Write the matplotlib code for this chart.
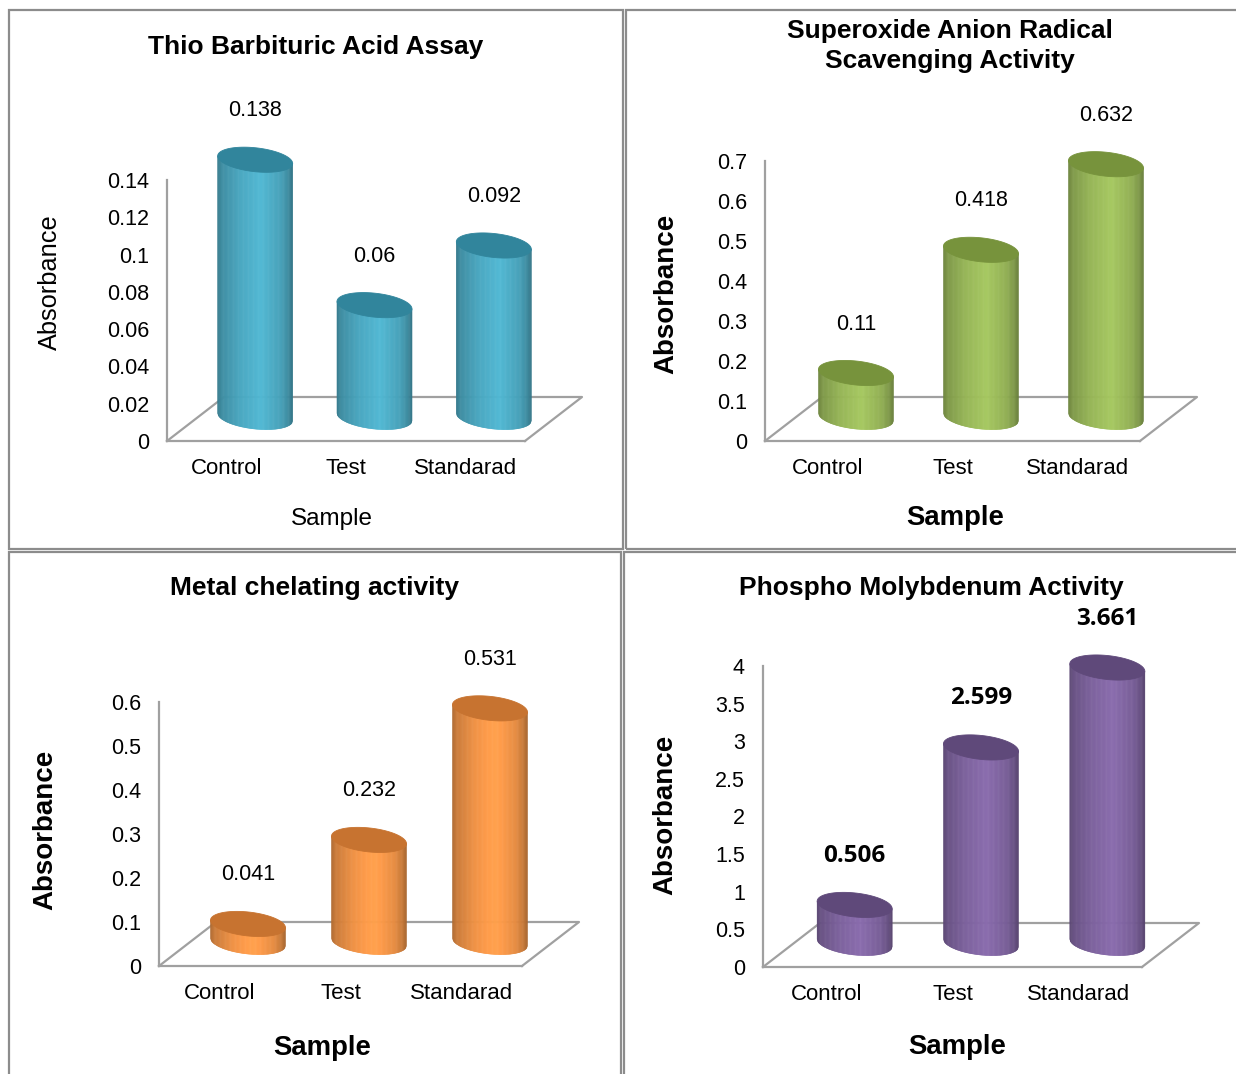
import numpy as np
import matplotlib
matplotlib.use("Agg")
import matplotlib.pyplot as plt
from matplotlib.collections import PolyCollection
from matplotlib.patches import Polygon, Rectangle
from matplotlib.colors import to_rgb

W, H, DPI = 1236, 1074, 100

# ---- data -------------------------------------------------------------
categories = ["Control", "Test", "Standarad"]

tba_values = [0.138, 0.06, 0.092]
superoxide_values = [0.11, 0.418, 0.632]
metal_values = [0.041, 0.232, 0.531]
phospho_values = [0.506, 2.599, 3.661]

tba_ticks = [0, 0.02, 0.04, 0.06, 0.08, 0.1, 0.12, 0.14]
tba_ticklabels = ["0", "0.02", "0.04", "0.06", "0.08", "0.1", "0.12", "0.14"]
superoxide_ticks = [0, 0.1, 0.2, 0.3, 0.4, 0.5, 0.6, 0.7]
superoxide_ticklabels = ["0", "0.1", "0.2", "0.3", "0.4", "0.5", "0.6", "0.7"]
metal_ticks = [0, 0.1, 0.2, 0.3, 0.4, 0.5, 0.6]
metal_ticklabels = ["0", "0.1", "0.2", "0.3", "0.4", "0.5", "0.6"]
phospho_ticks = [0, 0.5, 1, 1.5, 2, 2.5, 3, 3.5, 4]
phospho_ticklabels = ["0", "0.5", "1", "1.5", "2", "2.5", "3", "3.5", "4"]

titles = ["Thio Barbituric Acid Assay",
          "Superoxide Anion Radical\nScavenging Activity",
          "Metal chelating activity",
          "Phospho Molybdenum Activity"]

# ---- styling ----------------------------------------------------------
plt.rcParams["font.family"] = ["Liberation Sans", "DejaVu Sans"]
GRID = "#a0a0a0"
FRAME = "#8c8c8c"

panels = [
    dict(values=tba_values, ticks=tba_ticks, ticklabels=tba_ticklabels,
         title=titles[0], title_xy=(316, 47), frame=(9, 10, 623, 549),
         xL=167, xR=525, y0=441, ytop=180,
         ylabel_xy=(50, 282), xlabel_xy=(332, 519), label_weight="normal",
         body="#4bacc6", cap="#31859c", value_font=("Liberation Sans", "normal", 15.5)),
    dict(values=superoxide_values, ticks=superoxide_ticks, ticklabels=superoxide_ticklabels,
         title=titles[1], title_xy=(950, 46), frame=(626, 10, 1240, 549),
         xL=765, xR=1140, y0=441, ytop=161,
         ylabel_xy=(666, 294), xlabel_xy=(955, 518), label_weight="bold",
         body="#9bbb59", cap="#77933c", value_font=("Liberation Sans", "normal", 15.5)),
    dict(values=metal_values, ticks=metal_ticks, ticklabels=metal_ticklabels,
         title=titles[2], title_xy=(314, 588), frame=(9, 552, 621, 1080),
         xL=159, xR=522, y0=966, ytop=702,
         ylabel_xy=(45, 830), xlabel_xy=(322, 1048), label_weight="bold",
         body="#f79646", cap="#c77330", value_font=("Liberation Sans", "normal", 15.5)),
    dict(values=phospho_values, ticks=phospho_ticks, ticklabels=phospho_ticklabels,
         title=titles[3], title_xy=(931, 588), frame=(624, 552, 1240, 1080),
         xL=763, xR=1142, y0=967, ytop=666,
         ylabel_xy=(665, 815), xlabel_xy=(957, 1047), label_weight="bold",
         body="#8064a2", cap="#5f497a", value_font=("Open Sans", "bold", 17.5)),
]

DEPTH_X, DEPTH_Y = 57, 44      # floor depth, pixels
CYL_W, CYL_EH = 75, 24         # cylinder width / ellipse height, pixels
BASE_UP = 24                   # cylinder base centre above front edge, pixels
SHEAR = 0.1                    # cap tilt, px rise per px
LABEL_OFF = 49                 # value label above cap centre, pixels

knots_t = [0.0, 0.06, 0.3, 0.58, 0.85, 0.95, 1.0]
knots_k = [0.70, 0.82, 0.97, 1.07, 0.93, 0.80, 0.68]


def shade(color, t):
    k = np.interp(t, knots_t, knots_k)
    r, g, b = to_rgb(color)
    return tuple(np.clip([r * k, g * k, b * k], 0, 1))


def px2fig(x, y):
    return x / W, 1 - y / H


def cylinder(ax, cx, base, top, w, eh, shear, body, cap):
    n = 90
    xs = np.linspace(cx - w / 2, cx + w / 2, n + 1)
    u = (xs - cx) / (w / 2)
    lower = base - eh / 2 * np.sqrt(np.clip(1 - u ** 2, 0, None)) + shear * (xs - cx)
    upper = top + shear * (xs - cx)
    polys, cols = [], []
    for i in range(n):
        polys.append([(xs[i], lower[i]), (xs[i + 1], lower[i + 1]),
                      (xs[i + 1], upper[i + 1]), (xs[i], upper[i])])
        cols.append(shade(body, (i + 0.5) / n))
    pc = PolyCollection(polys, facecolors=cols, edgecolors=cols, linewidths=0.4,
                        clip_on=False, zorder=3)
    ax.add_collection(pc)
    th = np.linspace(0, 2 * np.pi, 120)
    ex = cx + w / 2 * np.cos(th)
    ey = top + eh / 2 * np.sin(th) + shear * (ex - cx)
    ax.add_patch(Polygon(np.column_stack([ex, ey]), closed=True, facecolor=cap,
                         edgecolor=cap, lw=0.6, clip_on=False, zorder=4))


fig = plt.figure(figsize=(W / DPI, H / DPI), dpi=DPI)
fig.patch.set_facecolor("white")

for p in panels:
    # panel frame
    x0, y0f, x1, y1f = p["frame"]
    fx, fy = px2fig(x0, y1f)
    fig.add_artist(Rectangle((fx, fy), (x1 - x0) / W, (y1f - y0f) / H,
                             transform=fig.transFigure, fill=False,
                             edgecolor=FRAME, lw=1.6, zorder=0))

    xL, xR, yb, yt = p["xL"], p["xR"], p["y0"], p["ytop"]
    ymax = p["ticks"][-1]
    left, bottom = px2fig(xL, yb)
    ax = fig.add_axes([left, bottom, (xR - xL) / W, (yb - yt) / H])
    ax.set_xlim(-0.5, 2.5)
    ax.set_ylim(0, ymax)
    ax.patch.set_visible(False)

    sx = 3.0 / (xR - xL)           # data x per pixel
    sy = ymax / (yb - yt)          # data y per pixel

    for side in ("top", "right"):
        ax.spines[side].set_visible(False)
    for side in ("left", "bottom"):
        ax.spines[side].set_color(GRID)
        ax.spines[side].set_linewidth(1.6)

    ax.set_yticks(p["ticks"])
    ax.set_yticklabels(p["ticklabels"])
    ax.set_xticks(range(len(categories)))
    ax.set_xticklabels(categories)
    ax.tick_params(axis="y", length=0, pad=13, labelsize=15.5)
    ax.tick_params(axis="x", length=0, pad=12, labelsize=16)

    ddx, ddy = DEPTH_X * sx, DEPTH_Y * sy
    ax.plot([-0.5, -0.5 + ddx, 2.5 + ddx, 2.5], [0, ddy, ddy, 0],
            color=GRID, lw=1.6, clip_on=False, zorder=1)

    w, eh = CYL_W * sx, CYL_EH * sy
    base = BASE_UP * sy
    shear = -SHEAR * sy / sx
    vf = p["value_font"]
    for i, v in enumerate(p["values"]):
        cx = i + ddx / 2
        top = base + v
        cylinder(ax, cx, base, top, w, eh, shear, p["body"], p["cap"])
        ax.annotate(f"{v:g}", xy=(cx, top), xytext=(0, LABEL_OFF * 72 / DPI),
                    textcoords="offset points", ha="center", va="center",
                    annotation_clip=False,
                    fontfamily=vf[0], fontweight=vf[1], fontsize=vf[2], zorder=5)

    tx, ty = px2fig(*p["title_xy"])
    fig.text(tx, ty, p["title"], ha="center", va="center", fontsize=19,
             fontweight="bold", linespacing=1.35)
    lx, ly = px2fig(*p["ylabel_xy"])
    fig.text(lx, ly, "Absorbance", ha="center", va="center", rotation=90,
             fontsize=20 if p["label_weight"] == "bold" else 18.3,
             fontweight=p["label_weight"])
    sx_, sy_ = px2fig(*p["xlabel_xy"])
    fig.text(sx_, sy_, "Sample", ha="center", va="center",
             fontsize=19.8 if p["label_weight"] == "bold" else 17.5,
             fontweight=p["label_weight"])

fig.savefig("out.png", dpi=DPI, facecolor="white")
